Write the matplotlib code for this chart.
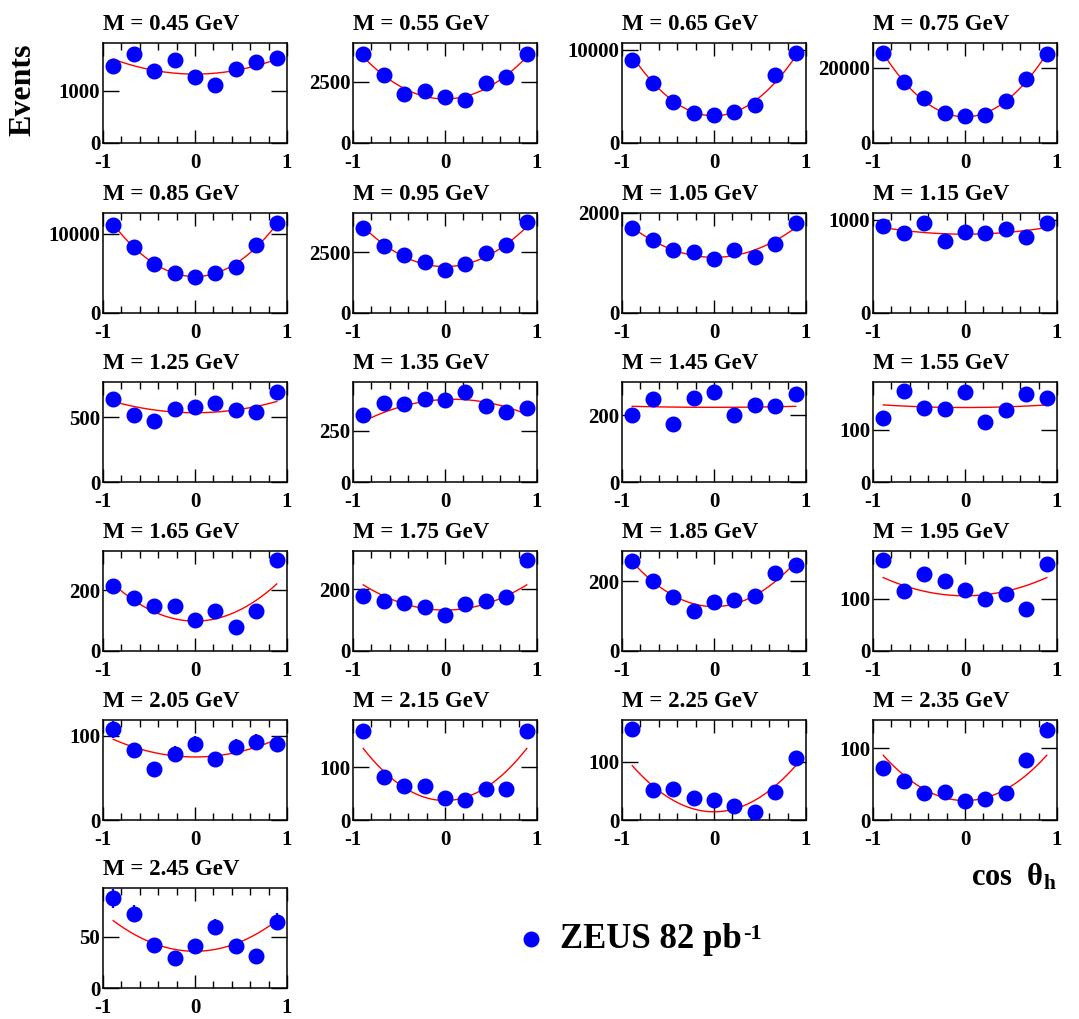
import numpy as np
import matplotlib
matplotlib.use("Agg")
import matplotlib.pyplot as plt
from matplotlib.lines import Line2D

plt.rcParams['font.family'] = ['Liberation Serif', 'DejaVu Serif']
plt.rcParams['font.weight'] = 'bold'
plt.rcParams['mathtext.fontset'] = 'custom'
plt.rcParams['mathtext.rm'] = 'Liberation Serif:bold'
plt.rcParams['mathtext.bf'] = 'Liberation Serif:bold'
plt.rcParams['mathtext.it'] = 'Liberation Serif:bold'

# bin centres in cos theta_h (9 bins from -1 to 1)
cos_bins = [-8/9, -6/9, -4/9, -2/9, 0.0, 2/9, 4/9, 6/9, 8/9]

masses = [0.45, 0.55, 0.65, 0.75, 0.85, 0.95, 1.05, 1.15, 1.25, 1.35, 1.45,
          1.55, 1.65, 1.75, 1.85, 1.95, 2.05, 2.15, 2.25, 2.35, 2.45]

events = [
    [1468, 1709, 1373, 1576, 1259, 1108, 1405, 1538, 1620],
    [3629, 2782, 1989, 2110, 1882, 1774, 2460, 2700, 3660],
    [8830, 6383, 4397, 3191, 2979, 3333, 4078, 7234, 9645],
    [23965, 16211, 12070, 7930, 7225, 7577, 11101, 17093, 23700],
    [11042, 8250, 6167, 5000, 4500, 5000, 5833, 8542, 11375],
    [3478, 2745, 2391, 2106, 1753, 1997, 2473, 2773, 3711],
    [1695, 1470, 1252, 1225, 1086, 1258, 1126, 1377, 1808],
    [929, 858, 968, 773, 865, 855, 904, 809, 965],
    [646, 518, 472, 562, 582, 608, 556, 544, 697],
    [327, 387, 381, 402, 398, 439, 369, 340, 361],
    [200, 250, 173, 253, 271, 202, 231, 229, 263],
    [122, 174, 142, 141, 172, 115, 138, 169, 162],
    [214, 173, 149, 148, 102, 132, 78, 132, 297],
    [178, 162, 155, 144, 118, 152, 163, 176, 295],
    [258, 200, 155, 113, 139, 146, 158, 222, 245],
    [175, 116, 147, 135, 117, 100, 109, 81, 168],
    [108, 83, 61, 79, 91, 73, 87, 93, 90],
    [169, 82, 65, 65, 42, 38, 58, 59, 169],
    [155, 52, 53, 38, 34, 24, 13, 48, 106],
    [72, 54, 38, 39, 27, 29, 38, 83, 125],
    [88, 73, 42, 29, 41, 60, 41, 31, 65],
]

# visible statistical errors (only the last panels show them beyond the marker)
errors = {
    2.05: [10.4, 9.1, 7.8, 8.9, 9.5, 8.5, 9.3, 9.6, 9.5],
    2.15: [13.0, 9.1, 8.1, 8.1, 6.5, 6.2, 7.6, 7.7, 13.0],
    2.25: [12.4, 7.2, 7.3, 6.2, 5.8, 4.9, 3.6, 6.9, 10.3],
    2.35: [8.5, 7.3, 6.2, 6.2, 5.2, 5.4, 6.2, 9.1, 11.2],
    2.45: [9.4, 8.5, 6.5, 5.4, 6.4, 7.7, 6.4, 5.6, 8.1],
}

# fit curve read at cos = -8/9, 0, +8/9
fit_left = [1601, 3522, 9290, 23789, 11167, 3533, 1709, 915, 623, 295, 227,
            148, 220, 215, 255, 141, 96, 136, 93, 90, 66]
fit_mid = [1316, 1801, 2908, 6960, 4583, 1902, 1113, 844, 536, 402, 224,
           143, 98, 133, 127, 106, 75, 37, 14, 27, 36]
fit_right = [1601, 3522, 9290, 23789, 11167, 3533, 1709, 915, 623, 330, 227,
             148, 220, 215, 255, 141, 96, 136, 93, 90, 66]

y_max = [1910, 4090, 10700, 26600, 12580, 4100, 2000, 1071, 774, 487, 300,
         192, 328, 325, 286, 192, 119, 190, 171, 139, 98]
y_tick = [1000, 2500, 10000, 20000, 10000, 2500, 2000, 1000, 500, 250, 200,
          100, 200, 200, 200, 100, 100, 100, 100, 100, 50]

W, H = 1079, 1019
fig = plt.figure(figsize=(W / 100, H / 100), dpi=100)

col_left = [103, 353, 622, 873]
row_top = [43, 213, 382, 551, 720, 888]
ax_w, ax_h = 184, 100

for i, m in enumerate(masses):
    r, c = divmod(i, 4)
    x0 = col_left[c]
    y0 = row_top[r] + ax_h
    ax = fig.add_axes([x0 / W, 1 - y0 / H, ax_w / W, ax_h / H])

    # fit curve (quadratic through the read values)
    coef = np.polyfit([cos_bins[0], 0.0, cos_bins[-1]],
                      [fit_left[i], fit_mid[i], fit_right[i]], 2)
    xs = np.linspace(cos_bins[0], cos_bins[-1], 200)
    ax.plot(xs, np.polyval(coef, xs), color='red', lw=1.0, zorder=2)

    yerr = errors.get(m)
    if yerr is not None:
        ax.errorbar(cos_bins, events[i], yerr=yerr, fmt='none', ecolor='blue',
                    elinewidth=1.6, capsize=0, zorder=3)
    ax.plot(cos_bins, events[i], 'o', color='blue', ms=10.5, mec='blue', zorder=4)

    ax.set_xlim(-1, 1)
    ax.set_ylim(0, y_max[i])
    ax.set_xticks([-1, 0, 1])
    ax.set_xticklabels(['-1', '0', '1'])
    ax.set_xticks(np.arange(-0.8, 0.81, 0.2), minor=True)
    ax.set_yticks([0, y_tick[i]])
    ax.set_yticklabels(['0', str(y_tick[i])])

    ax.tick_params(axis='x', which='major', direction='in', length=9.5, width=1.0,
                   top=True, labelsize=15, pad=7)
    ax.tick_params(axis='x', which='minor', direction='in', length=5, width=1.0, top=True)
    ax.tick_params(axis='y', which='major', direction='in', length=11.5, width=1.0,
                   right=True, labelsize=15, pad=2)
    for s in ax.spines.values():
        s.set_linewidth(1.1)

    ax.annotate(f'M = {m:.2f} GeV', xy=(0, 1), xycoords='axes fraction',
                xytext=(0, 9.5), textcoords='offset points',
                ha='left', va='baseline', fontsize=16.5, fontweight='bold')

fig.text(23 / W, 1 - 90 / H, 'Events', rotation=90, ha='center', va='center',
         fontsize=23, fontweight='bold')
fig.text(1057 / W, 1 - 886 / H, r'cos  θ$_{\rm h}$', ha='right', va='baseline',
         fontsize=22, fontweight='bold')

# legend: marker, label and superscript
fig.add_artist(Line2D([531 / W], [1 - 939 / H], marker='o', color='blue', ms=10.5,
                      transform=fig.transFigure))
leg = fig.text(560 / W, 1 - 948 / H, 'ZEUS 82 pb', ha='left', va='baseline',
               fontsize=25, fontweight='bold')
fig.draw_without_rendering()
bb = leg.get_window_extent()
fig.text((bb.x1 + 1) / W, (bb.y1 - 1) / H, '-1', ha='left', va='top',
         fontsize=16, fontweight='bold')

fig.savefig('out.png', dpi=100)
